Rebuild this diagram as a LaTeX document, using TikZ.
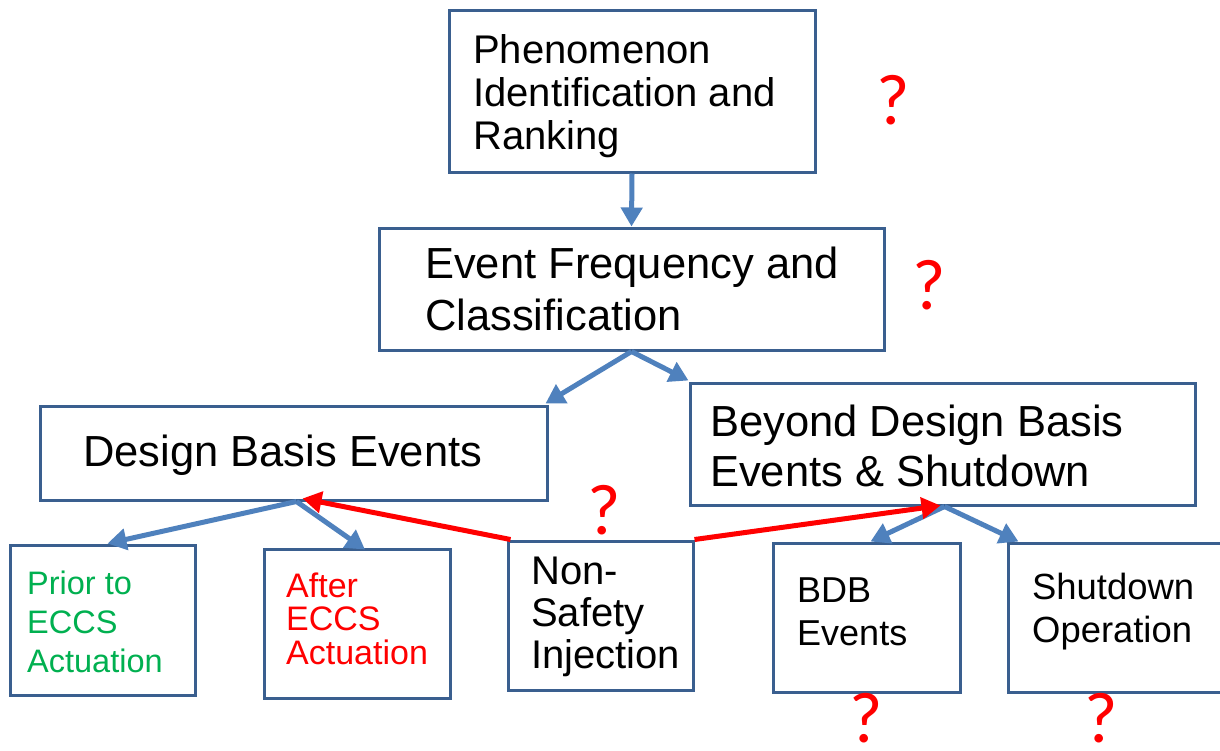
\documentclass[tikz,border=0pt]{standalone}
\usepackage{fontspec}
\setmainfont{Liberation Sans}
\newfontfamily\qfont{Carlito}
\usetikzlibrary{arrows.meta,calc}
\definecolor{boxline}{HTML}{3A5F8F}
\definecolor{arrowblue}{HTML}{4F81BD}
\definecolor{txtgreen}{HTML}{00B050}
\definecolor{txtred}{HTML}{FF0000}
\tikzset{
  box/.style={draw=boxline, line width=3pt, fill=white, inner sep=0pt, anchor=center},
  label/.style={align=left, inner sep=0pt, anchor=west},
  bluearrow/.style={draw=arrowblue, line width=5pt, -{Triangle[length=19pt,width=21pt]}},
  redarrow/.style={draw=txtred, line width=5pt, -{Triangle[length=19pt,width=21pt]}},
  qmark/.style={text=txtred, font=\qfont\fontsize{72}{72}\selectfont, inner sep=0pt}
}
\begin{document}
\begin{tikzpicture}[x=1pt,y=-1pt]
\useasboundingbox (0,0) rectangle (1220,750);
\fill[white] (0,0) rectangle (1220,750);
% boxes
\node[box, minimum width=366pt, minimum height=162pt] (phen) at (632,91) {};
\node[box, minimum width=505pt, minimum height=122pt] (event) at (631.5,289) {};
\node[box, minimum width=507pt, minimum height=94pt] (db) at (293.5,453) {};
\node[box, minimum width=505pt, minimum height=122pt] (bdb) at (942.5,444) {};
\node[box, minimum width=185pt, minimum height=150pt] (prior) at (102.5,620) {};
\node[box, minimum width=186pt, minimum height=149pt] (after) at (357,623.5) {};
\node[box, minimum width=185pt, minimum height=149pt] (nsi) at (600.5,615.5) {};
\node[box, minimum width=187pt, minimum height=149pt] (bdbev) at (866.5,617.5) {};
\node[box, minimum width=217pt, minimum height=149pt] (shut) at (1116.5,617.5) {};
% texts
\node[label, font=\fontsize{40}{43}\selectfont] (phen-t) at (473,96)
  {Phenomenon\\Identification and\\Ranking};
\node[label, font=\fontsize{43.5}{52}\selectfont] (event-t) at (425,289)
  {Event Frequency and\\Classification};
\node[label, font=\fontsize{43.5}{52}\selectfont] (db-t) at (83,455)
  {Design Basis Events};
\node[label, font=\fontsize{43.5}{50}\selectfont] (bdb-t) at (710,446)
  {Beyond Design Basis\\Events \& Shutdown};
\node[label, font=\fontsize{32.5}{39}\selectfont, text=txtgreen] (prior-t) at (27,622)
  {Prior to\\ECCS\\Actuation};
\node[label, font=\fontsize{34}{33.5}\selectfont, text=txtred] (after-t) at (286,618.5)
  {After\\ECCS\\Actuation};
\node[label, font=\fontsize{40}{42}\selectfont] (nsi-t) at (531,617)
  {Non-\\Safety\\Injection};
\node[label, font=\fontsize{36}{43}\selectfont] (bdbev-t) at (797,611.5)
  {BDB\\Events};
\node[label, font=\fontsize{36.4}{43}\selectfont] (shut-t) at (1032,611.5)
  {Shutdown\\Operation};
% connectors
\draw[bluearrow] (phen.south) -- (event.north);
\draw[bluearrow] (event.south) -- ([xshift=-3pt,yshift=1pt]db.north east);
\draw[bluearrow] (event.south) -- ([yshift=1pt]bdb.north west);
\draw[bluearrow] ([xshift=3pt]db.south) -- ([xshift=5pt]prior.north);
\draw[bluearrow] ([xshift=3pt]db.south) -- ([xshift=8pt,yshift=-2pt]after.north);
\draw[bluearrow] ([xshift=2pt]bdb.south) -- ([xshift=4pt]bdbev.north);
\draw[bluearrow] ([xshift=2pt]bdb.south) -- ([xshift=12pt]shut.north west);
\draw[redarrow] ([xshift=4pt]nsi.north west) -- ([xshift=9pt,yshift=3pt]db.south);
\draw[redarrow] (nsi.north east) -- ([xshift=-2pt,yshift=1pt]bdb.south);
% question marks
\node[qmark] (q1) at (893,100) {?};
\node[qmark] (q2) at (929,285) {?};
\node[qmark] (q3) at (604,510) {?};
\node[qmark] (q4) at (866,718) {?};
\node[qmark] (q5) at (1101,718) {?};
\end{tikzpicture}
\end{document}
